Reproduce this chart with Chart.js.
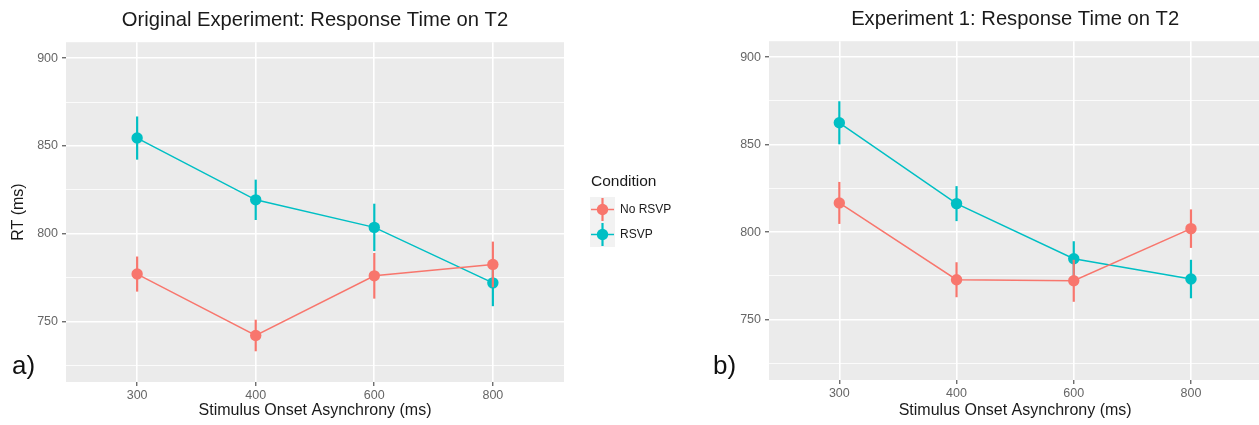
<!DOCTYPE html>
<html>
<head>
<meta charset="utf-8">
<script src="https://cdn.jsdelivr.net/npm/chart.js@4.4.1/dist/chart.umd.min.js"></script>
<style>
  html, body { margin: 0; padding: 0; background: #fff; }
  body { width: 1259px; height: 425px; position: relative; overflow: hidden; }
  canvas { position: absolute; top: 0; }
  #origChart { left: 0; }
  #exp1Chart { left: 700px; }
</style>
</head>
<body>
<canvas id="origChart" width="700" height="425"></canvas>
<canvas id="exp1Chart" width="567" height="425"></canvas>
<script>
// SOA levels (discrete x axis) and y grid values
const soaLabels = ['300', '400', '600', '800'];
const yTicks = [725, 750, 775, 800, 825, 850, 875, 900];
const conditions = ['No RSVP', 'RSVP'];
const condColors = ['#F8766D', '#00BFC4'];

// Original experiment: mean RT (ms) and error bar half-widths
const origNoRsvp = [777, 742, 776, 782.5];
const origNoRsvpErr = [10, 9, 13, 13];
const origRsvp = [854.5, 819.3, 803.6, 772];
const origRsvpErr = [12.3, 11.5, 13.5, 13.3];

// Experiment 1
const exp1NoRsvp = [816.7, 772.8, 772.2, 802];
const exp1NoRsvpErr = [12, 10, 12, 11];
const exp1Rsvp = [862.5, 816.3, 784.8, 773.2];
const exp1RsvpErr = [12.3, 10, 10, 11];

Chart.defaults.font.family = '"Liberation Sans", Arial, sans-serif';
Chart.defaults.devicePixelRatio = 1;

const FONT = '"Liberation Sans", Arial, sans-serif';
const TICK_COLOR = '#666666';
const TEXT_COLOR = '#1a1a1a';
const POINT_R = 5.7;

// grey panel behind the plot
const panelBg = {
    id: 'panelBg',
    beforeDraw(chart) {
        const { ctx, chartArea: a } = chart;
        ctx.save();
        ctx.fillStyle = '#EBEBEB';
        ctx.fillRect(a.left, a.top, a.width, a.height);
        ctx.restore();
    }
};

// vertical error bars, drawn under each dataset's line and points
const errorBars = {
    id: 'errorBars',
    beforeDatasetDraw(chart, args) {
        const ds = chart.data.datasets[args.index];
        const xs = chart.scales.x, ys = chart.scales.y;
        const ctx = chart.ctx;
        ctx.save();
        ctx.strokeStyle = ds.borderColor;
        ctx.lineWidth = 2.2;
        ds.data.forEach((p, i) => {
            const e = ds.errors[i];
            const px = xs.getPixelForValue(p.x);
            ctx.beginPath();
            ctx.moveTo(px, ys.getPixelForValue(p.y - e));
            ctx.lineTo(px, ys.getPixelForValue(p.y + e));
            ctx.stroke();
        });
        ctx.restore();
    }
};

// "a)" / "b)" panel tags
const panelTag = {
    id: 'panelTag',
    afterDraw(chart, args, opts) {
        if (!opts.text) return;
        const ctx = chart.ctx;
        ctx.save();
        ctx.font = '26px ' + FONT;
        ctx.fillStyle = '#111';
        ctx.textBaseline = 'middle';
        ctx.fillText(opts.text, opts.x, opts.y);
        ctx.restore();
    }
};

// ggplot-style legend with grey key boxes
const conditionLegend = {
    id: 'conditionLegend',
    afterDraw(chart, args, opts) {
        if (!opts.show) return;
        const ctx = chart.ctx;
        ctx.save();
        ctx.textBaseline = 'middle';
        ctx.font = '15.5px ' + FONT;
        ctx.fillStyle = TEXT_COLOR;
        ctx.fillText(opts.title, opts.x + 1, opts.y);
        chart.data.datasets.forEach((ds, i) => {
            const kx = opts.x, ky = opts.y + 15 + i * 25, k = 25;
            const cx = kx + k / 2, cy = ky + k / 2;
            ctx.fillStyle = '#F2F2F2';
            ctx.fillRect(kx, ky, k, k);
            ctx.strokeStyle = ds.borderColor;
            ctx.lineWidth = 1.5;
            ctx.beginPath();
            ctx.moveTo(kx + 1, cy);
            ctx.lineTo(kx + k - 1, cy);
            ctx.stroke();
            ctx.lineWidth = 2.2;
            ctx.beginPath();
            ctx.moveTo(cx, ky + 1);
            ctx.lineTo(cx, ky + k - 1);
            ctx.stroke();
            ctx.fillStyle = ds.borderColor;
            ctx.beginPath();
            ctx.arc(cx, cy, POINT_R, 0, Math.PI * 2);
            ctx.fill();
            ctx.font = '12px ' + FONT;
            ctx.fillStyle = TEXT_COLOR;
            ctx.fillText(ds.label, kx + k + 5, cy);
        });
        ctx.restore();
    }
};

function toPoints(vals) {
    return vals.map((v, i) => ({ x: i, y: v }));
}

function makeSeries(label, color, vals, errs) {
    return {
        label: label,
        data: toPoints(vals),
        errors: errs,
        borderColor: color,
        backgroundColor: color,
        borderWidth: 1.5,
        pointRadius: POINT_R,
        pointBorderWidth: 0,
        pointBackgroundColor: color,
        tension: 0
    };
}

function makeChart(id, cfg) {
    const isMajor = c => c.tick && c.tick.value % 50 === 0;
    return new Chart(document.getElementById(id), {
        type: 'line',
        data: {
            datasets: [
                makeSeries(conditions[0], condColors[0], cfg.noRsvp, cfg.noRsvpErr),
                makeSeries(conditions[1], condColors[1], cfg.rsvp, cfg.rsvpErr)
            ]
        },
        options: {
            responsive: false,
            animation: false,
            events: [],
            layout: { padding: { left: 0, right: cfg.padRight, top: 0, bottom: 0 } },
            scales: {
                x: {
                    type: 'linear',
                    min: -0.6,
                    max: 3.6,
                    afterBuildTicks: s => { s.ticks = soaLabels.map((_, i) => ({ value: i })); },
                    afterFit: s => { s.height = cfg.xAxisH; },
                    border: { display: false },
                    grid: { color: '#ffffff', lineWidth: 1.6, tickLength: 4, tickColor: '#333', tickWidth: 1 },
                    ticks: {
                        callback: v => soaLabels[v],
                        autoSkip: false,
                        maxRotation: 0,
                        padding: 2,
                        color: TICK_COLOR,
                        font: { size: 12.5 }
                    },
                    title: {
                        display: true,
                        text: 'Stimulus Onset Asynchrony (ms)',
                        color: TEXT_COLOR,
                        font: { size: 16 },
                        padding: { top: 2, bottom: 4.5 }
                    }
                },
                y: {
                    type: 'linear',
                    min: 715.5,
                    max: 909.1,
                    afterBuildTicks: s => { s.ticks = yTicks.map(v => ({ value: v })); },
                    afterFit: s => { s.width = cfg.yAxisW; },
                    border: { display: false },
                    grid: {
                        color: '#ffffff',
                        lineWidth: c => isMajor(c) ? 1.6 : 0.8,
                        tickLength: 4,
                        tickColor: c => isMajor(c) ? '#333' : 'rgba(0,0,0,0)',
                        tickWidth: 1
                    },
                    ticks: {
                        callback: v => v % 50 === 0 ? String(v) : '',
                        autoSkip: false,
                        padding: 4,
                        color: TICK_COLOR,
                        font: { size: 12.5 }
                    },
                    title: {
                        display: cfg.yTitle,
                        text: 'RT (ms)',
                        color: TEXT_COLOR,
                        font: { size: 16 },
                        padding: { top: 9, bottom: 0 }
                    }
                }
            },
            plugins: {
                legend: { display: false },
                tooltip: { enabled: false },
                title: {
                    display: true,
                    text: cfg.title,
                    fullSize: false,
                    color: TEXT_COLOR,
                    font: { size: 20.2, weight: 'normal' },
                    padding: { top: cfg.titleTop, bottom: 10 }
                },
                panelTag: cfg.tag,
                conditionLegend: cfg.legend || { show: false }
            }
        },
        plugins: [panelBg, errorBars, panelTag, conditionLegend]
    });
}

makeChart('origChart', {
    title: 'Original Experiment: Response Time on T2',
    noRsvp: origNoRsvp, noRsvpErr: origNoRsvpErr,
    rsvp: origRsvp, rsvpErr: origRsvpErr,
    padRight: 136, yAxisW: 66, xAxisH: 43, titleTop: 8, yTitle: true,
    tag: { text: 'a)', x: 12, y: 367 },
    legend: { show: true, title: 'Condition', x: 590, y: 182 }
});

makeChart('exp1Chart', {
    title: 'Experiment 1: Response Time on T2',
    noRsvp: exp1NoRsvp, noRsvpErr: exp1NoRsvpErr,
    rsvp: exp1Rsvp, rsvpErr: exp1RsvpErr,
    padRight: 0, yAxisW: 69, xAxisH: 45, titleTop: 7, yTitle: false,
    tag: { text: 'b)', x: 13, y: 367 }
});
</script>
</body>
</html>
